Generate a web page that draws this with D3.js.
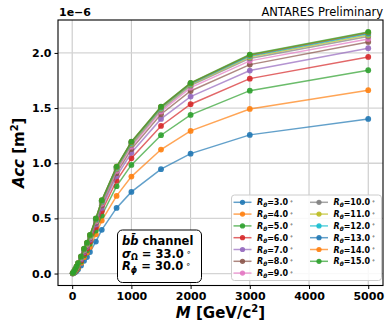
<!DOCTYPE html>
<html>
<head>
<meta charset="utf-8">
<script src="https://cdn.jsdelivr.net/npm/d3@7"></script>
<style>
  html, body { margin: 0; padding: 0; background: #fff; }
  svg { display: block; font-family: "DejaVu Sans", sans-serif; }
</style>
</head>
<body>
<svg id="chart" width="387" height="324"></svg>
<script>
// Dark-matter mass points [GeV/c^2]
const masses = [10, 25, 50, 75, 100, 150, 200, 250, 300, 400, 500, 750, 1000, 1500, 2000, 3000, 5000];

// Acceptance [m^2] in units of 1e-6, one array per R_theta cone
const acc_R3  = [0.001, 0.004, 0.012, 0.024, 0.038, 0.072, 0.115, 0.150, 0.195, 0.290, 0.396, 0.595, 0.740, 0.946, 1.087, 1.257, 1.402];
const acc_R4  = [0.0015, 0.006, 0.018, 0.034, 0.053, 0.096, 0.148, 0.190, 0.240, 0.355, 0.480, 0.704, 0.879, 1.124, 1.293, 1.492, 1.662];
const acc_R5  = [0.002, 0.008, 0.022, 0.041, 0.063, 0.110, 0.166, 0.210, 0.270, 0.390, 0.526, 0.792, 0.985, 1.254, 1.438, 1.658, 1.843];
const acc_R6  = [0.002, 0.009, 0.026, 0.046, 0.070, 0.120, 0.180, 0.228, 0.290, 0.420, 0.565, 0.843, 1.045, 1.338, 1.535, 1.767, 1.964];
const acc_R7  = [0.0025, 0.010, 0.029, 0.051, 0.076, 0.129, 0.192, 0.242, 0.307, 0.445, 0.595, 0.882, 1.095, 1.402, 1.604, 1.840, 2.043];
const acc_R8  = [0.003, 0.011, 0.031, 0.054, 0.081, 0.136, 0.201, 0.252, 0.318, 0.460, 0.617, 0.910, 1.128, 1.444, 1.655, 1.894, 2.100];
const acc_R9  = [0.003, 0.012, 0.033, 0.057, 0.085, 0.141, 0.208, 0.260, 0.327, 0.472, 0.632, 0.930, 1.150, 1.468, 1.685, 1.928, 2.127];
const acc_R10 = [0.003, 0.013, 0.034, 0.060, 0.088, 0.145, 0.213, 0.266, 0.334, 0.481, 0.643, 0.944, 1.166, 1.485, 1.703, 1.950, 2.148];
const acc_R11 = [0.0035, 0.013, 0.035, 0.061, 0.090, 0.148, 0.217, 0.270, 0.339, 0.487, 0.651, 0.953, 1.177, 1.496, 1.713, 1.963, 2.163];
const acc_R12 = [0.0035, 0.014, 0.036, 0.062, 0.092, 0.151, 0.220, 0.274, 0.343, 0.492, 0.656, 0.960, 1.185, 1.503, 1.720, 1.972, 2.174];
const acc_R13 = [0.004, 0.014, 0.037, 0.063, 0.093, 0.153, 0.222, 0.276, 0.346, 0.495, 0.660, 0.965, 1.190, 1.508, 1.724, 1.978, 2.181];
const acc_R14 = [0.004, 0.015, 0.037, 0.064, 0.094, 0.154, 0.224, 0.278, 0.348, 0.498, 0.663, 0.968, 1.193, 1.511, 1.726, 1.982, 2.186];
const acc_R15 = [0.004, 0.015, 0.038, 0.065, 0.095, 0.155, 0.225, 0.280, 0.350, 0.500, 0.665, 0.970, 1.196, 1.513, 1.728, 1.985, 2.190];

const rThetaLabels = ["3.0", "4.0", "5.0", "6.0", "7.0", "8.0", "9.0", "10.0", "11.0", "12.0", "13.0", "14.0", "15.0"];
const seriesValues = [acc_R3, acc_R4, acc_R5, acc_R6, acc_R7, acc_R8, acc_R9, acc_R10, acc_R11, acc_R12, acc_R13, acc_R14, acc_R15];

const xTicks = [0, 1000, 2000, 3000, 4000, 5000];
const yTicks = [0.0, 0.5, 1.0, 1.5, 2.0];
const offsetLabel = "1e\u22126";
const titleText = "ANTARES Preliminary";
const sigmaOmega = "33.0";
const rPhi = "30.0";

const palette = ["#1f77b4", "#ff7f0e", "#2ca02c", "#d62728", "#9467bd", "#8c564b",
                 "#e377c2", "#7f7f7f", "#bcbd22", "#17becf"];

const series = rThetaLabels.map((lab, i) => ({
  label: lab,
  color: palette[i % palette.length],
  points: masses.map((m, j) => ({ m, v: seriesValues[i][j] }))
}));

const svg = d3.select("#chart");
const plot = { left: 58, right: 383, top: 20, bottom: 285.5 };

const x = d3.scaleLinear().domain([-239.5, 5249.5]).range([plot.left, plot.right]);
const y = d3.scaleLinear().domain([-0.1085, 2.2985]).range([plot.bottom, plot.top]);

// grid
const grid = svg.append("g");
grid.selectAll(".gx").data(xTicks).join("line")
  .attr("x1", d => x(d)).attr("x2", d => x(d))
  .attr("y1", plot.top).attr("y2", plot.bottom)
  .attr("stroke", "#c4c4c4").attr("stroke-width", 1);
grid.selectAll(".gy").data(yTicks).join("line")
  .attr("x1", plot.left).attr("x2", plot.right)
  .attr("y1", d => y(d)).attr("y2", d => y(d))
  .attr("stroke", "#d4d4d4").attr("stroke-width", 1.3);

// axes
const xAxis = d3.axisBottom(x).tickValues(xTicks).tickFormat(d3.format("d")).tickSizeOuter(0).tickSize(3.5).tickPadding(3);
const yAxis = d3.axisLeft(y).tickValues(yTicks).tickFormat(d3.format(".1f")).tickSizeOuter(0).tickSize(3.5).tickPadding(3);

const gx = svg.append("g").attr("transform", `translate(0,${plot.bottom})`).call(xAxis);
const gy = svg.append("g").attr("transform", `translate(${plot.left},0)`).call(yAxis);
[gx, gy].forEach(g => {
  g.select(".domain").remove();
  g.selectAll("text").attr("font-family", "DejaVu Sans").attr("font-size", 11)
    .attr("font-weight", "bold").attr("fill", "#000");
  g.selectAll("line").attr("stroke", "#000").attr("stroke-width", 1);
});

// data lines and markers
const line = d3.line().x(d => x(d.m)).y(d => y(d.v));
const marks = svg.append("g");
series.forEach(s => {
  const g = marks.append("g");
  g.append("path").datum(s.points)
    .attr("d", line).attr("fill", "none")
    .attr("stroke", s.color).attr("stroke-width", 1.5).attr("stroke-opacity", 0.7);
  g.selectAll("circle").data(s.points).join("circle")
    .attr("cx", d => x(d.m)).attr("cy", d => y(d.v)).attr("r", 2.9)
    .attr("fill", s.color).attr("fill-opacity", 0.9);
});

// frame
svg.append("rect")
  .attr("x", plot.left).attr("y", plot.top)
  .attr("width", plot.right - plot.left).attr("height", plot.bottom - plot.top)
  .attr("fill", "none").attr("stroke", "#000").attr("stroke-width", 1.1);

// offset text and title
svg.append("text").attr("x", plot.left + 1).attr("y", 16)
  .attr("font-size", 11).attr("font-weight", "bold").text(offsetLabel);
svg.append("text").attr("x", plot.right).attr("y", 15.5).attr("text-anchor", "end")
  .attr("font-size", 11.5).text(titleText);

// axis labels
const yl = svg.append("text")
  .attr("transform", `translate(24,${(plot.top + plot.bottom) / 2}) rotate(-90)`)
  .attr("text-anchor", "middle").attr("font-size", 15).attr("font-weight", "bold");
yl.append("tspan").attr("font-style", "italic").text("Acc");
yl.append("tspan").text(" [m");
yl.append("tspan").attr("font-size", 10).attr("dy", -6).text("2");
yl.append("tspan").attr("dy", 6).text("]");

const xl = svg.append("text")
  .attr("x", (plot.left + plot.right) / 2).attr("y", 318)
  .attr("text-anchor", "middle").attr("font-size", 15).attr("font-weight", "bold");
xl.append("tspan").attr("font-style", "italic").text("M");
xl.append("tspan").text(" [GeV/c");
xl.append("tspan").attr("font-size", 10).attr("dy", -6).text("2");
xl.append("tspan").attr("dy", 6).text("]");

// annotation box
const box = svg.append("g");
box.append("rect").attr("x", 117.5).attr("y", 230).attr("width", 84).attr("height", 52.5)
  .attr("rx", 5).attr("fill", "#fff").attr("stroke", "#000").attr("stroke-width", 1);
const ann = box.append("g").attr("font-size", 11.5).attr("font-weight", "bold");
const t1 = ann.append("text").attr("x", 122).attr("y", 245);
t1.append("tspan").attr("font-style", "italic").text("b");
t1.append("tspan").attr("font-style", "italic").text("b\u0304");
t1.append("tspan").text(" channel");
const t2 = ann.append("text").attr("x", 122).attr("y", 257.5);
t2.append("tspan").attr("font-style", "italic").text("\u03c3");
t2.append("tspan").attr("font-size", 8).attr("dy", 2.5).text("\u03a9");
t2.append("tspan").attr("dy", -2.5).text(` = ${sigmaOmega}`);
t2.append("tspan").attr("font-size", 8).attr("font-weight", "normal").attr("dy", -3).text(" \u2218");
const t3 = ann.append("text").attr("x", 122).attr("y", 270);
t3.append("tspan").attr("font-style", "italic").text("R");
t3.append("tspan").attr("font-size", 8).attr("font-style", "italic").attr("dy", 2.5).text("\u03d5");
t3.append("tspan").attr("dy", -2.5).text(` = ${rPhi}`);
t3.append("tspan").attr("font-size", 8).attr("font-weight", "normal").attr("dy", -3).text(" \u2218");

// legend
const legend = svg.append("g");
legend.append("rect").attr("x", 231.5).attr("y", 195).attr("width", 150).attr("height", 85.5)
  .attr("rx", 3).attr("fill", "#fff").attr("fill-opacity", 0.85)
  .attr("stroke", "#cccccc").attr("stroke-width", 1);
const rowsPerCol = 7;
series.forEach((s, i) => {
  const col = Math.floor(i / rowsPerCol);
  const row = i % rowsPerCol;
  const lx = 233.5 + col * 76.5;
  const ly = 202.3 + row * 11.8;
  const g = legend.append("g");
  g.append("line").attr("x1", lx).attr("x2", lx + 18).attr("y1", ly).attr("y2", ly)
    .attr("stroke", s.color).attr("stroke-width", 1.5).attr("stroke-opacity", 0.7);
  g.append("circle").attr("cx", lx + 9).attr("cy", ly).attr("r", 2.6)
    .attr("fill", s.color).attr("fill-opacity", 0.9);
  const t = g.append("text").attr("x", lx + 23.5).attr("y", ly + 3)
    .attr("font-size", 8).attr("font-weight", "bold");
  t.append("tspan").attr("font-style", "italic").text("R");
  t.append("tspan").attr("font-style", "italic").attr("font-size", 5.8).attr("dy", 1.8).text("\u03b8");
  t.append("tspan").attr("dy", -1.8).text(`=${s.label}`);
  t.append("tspan").attr("font-size", 5.5).attr("font-weight", "normal").attr("dy", -2.5).text(" \u2218");
});
</script>
</body>
</html>
